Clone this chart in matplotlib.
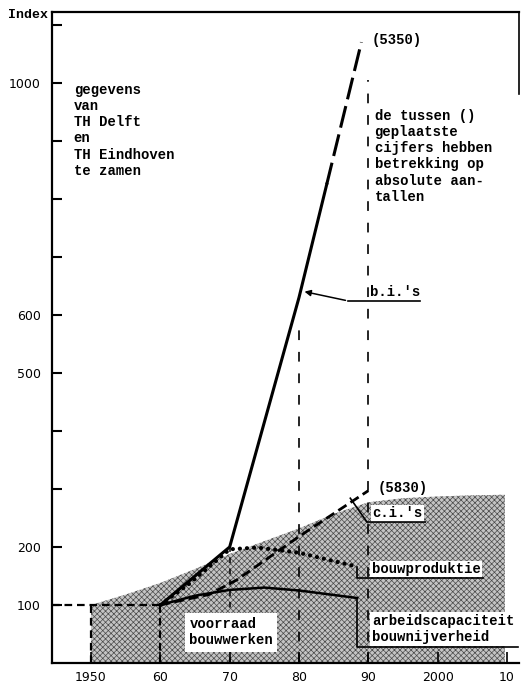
import matplotlib
matplotlib.use("Agg")
import matplotlib.pyplot as plt

plt.rcParams["lines.scale_dashes"] = False
plt.rcParams["hatch.linewidth"] = 0.5

# index values (1960 = 100)
bi_years = [1960, 1970, 1980, 1984, 1989]
bi_index = [100, 200, 630, 825, 1070]

ci_years = [1960, 1967, 1971, 1980, 1990]
ci_index = [100, 118, 143, 218, 297]

prod_years = [1960, 1964, 1970, 1974, 1980, 1988.4]
prod_index = [100, 135, 196, 199, 190, 166]

labour_years = [1960, 1965, 1970, 1975, 1980, 1988.4]
labour_index = [100, 116, 126, 130, 125, 112]

stock_years = [1950, 1955, 1960, 1965, 1970, 1975, 1980, 1985, 1990,
               1995, 2000, 2005, 2009.7]
stock_index = [100, 118, 138, 162, 188, 210, 232, 257, 277,
               284, 287, 289, 290]

x_ticks = [1950, 1960, 1970, 1980, 1990, 2000, 2010]
x_labels = ["1950", "60", "70", "80", "90", "2000", "10"]
y_ticks = list(range(100, 1101, 100))
y_labels = {100: "100", 200: "200", 500: "500", 600: "600", 1000: "1000"}

MONO = ["Liberation Mono", "DejaVu Sans Mono"]
TXT = dict(family=MONO, fontsize=10, fontweight="bold", color="black")

fig = plt.figure(figsize=(5.25, 6.85), dpi=100)
ax = fig.add_axes([0.099, 0.0321, 0.8905, 0.9504])
ax.set_xlim(1944.37, 2011.8)
ax.set_ylim(0, 1122)

# shaded stock of buildings
ax.fill_between(stock_years, 0, stock_index, facecolor="#c4c4c4",
                edgecolor="#4a4a4a", hatch="xxxxxx", linewidth=0, zorder=1)

# guide lines
ax.plot([1944.37, 1960], [100, 100], color="k", lw=1.6, dashes=[5.5, 3.5], zorder=2)
for yr in (1950, 1960):
    ax.plot([yr, yr], [0, 100], color="k", lw=1.6, dashes=[5.5, 3.5], zorder=2)
ax.plot([1970, 1970], [0, 200], color="k", lw=1.1, dashes=[4, 4], zorder=2)
ax.plot([1980, 1980], [0, 580], color="k", lw=1.2, dashes=[7, 8.5], zorder=2)
ax.plot([1990, 1990], [0, 1005], color="k", lw=1.2, dashes=[7, 8.5], zorder=2)

# series
ax.plot(bi_years[:4], bi_index[:4], color="k", lw=2.2, zorder=3)
ax.plot(bi_years[3:], bi_index[3:], color="k", lw=2.2, dashes=[16, 5], zorder=3)
ax.plot(ci_years, ci_index, color="k", lw=2.0, dashes=[7, 3.5], zorder=3)
ax.plot(prod_years, prod_index, color="k", lw=3.0, dashes=[0.1, 5],
        dash_capstyle="round", zorder=3)
ax.plot(labour_years, labour_index, color="k", lw=1.8, zorder=3)

# labels with leaders
ax.annotate("", xy=(1980.4, 641), xytext=(1987.1, 624),
            arrowprops=dict(arrowstyle="-|>", color="k", lw=1.1, mutation_scale=9),
            zorder=5)
ax.plot([1987.1, 1997.5], [624, 624], color="k", lw=1.2, zorder=5)
ax.text(1993.9, 628, "b.i.'s", ha="center", va="bottom", zorder=5, **TXT)

ax.plot([1987.4, 1989.8, 1998.2], [284, 243, 243], color="k", lw=1.2, zorder=5)
ax.text(1994.2, 246, "c.i.'s", ha="center", va="bottom", zorder=4,
        bbox=dict(facecolor="white", edgecolor="none", pad=1), **TXT)

ax.plot([1988.4, 1988.4, 2006.6], [166, 147, 147], color="k", lw=1.2, zorder=5)
ax.text(1990.5, 150, "bouwproduktie", ha="left", va="bottom", zorder=4,
        bbox=dict(facecolor="white", edgecolor="none", pad=1), **TXT)

ax.plot([1988.4, 1988.4, 2011.6], [112, 27.6, 27.6], color="k", lw=1.2, zorder=5)
ax.text(1990.5, 32, "arbeidscapaciteit\nbouwnijverheid", ha="left", va="bottom",
        linespacing=1.25, zorder=4,
        bbox=dict(facecolor="white", edgecolor="none", pad=1), **TXT)

ax.text(1964.2, 53, "voorraad\nbouwwerken", ha="left", va="center",
        linespacing=1.2, zorder=4,
        bbox=dict(facecolor="white", edgecolor="none", pad=3), **TXT)

ax.text(1990.5, 1074, "(5350)", ha="left", va="center", **TXT)
ax.text(1991.3, 302, "(5830)", ha="left", va="center", **TXT)

ax.text(1947.5, 1000, "gegevens\nvan\nTH Delft\nen\nTH Eindhoven\nte zamen",
        ha="left", va="top", linespacing=1.2, **TXT)
ax.text(1990.9, 955, "de tussen ()\ngeplaatste\ncijfers hebben\nbetrekking op\n"
        "absolute aan-\ntallen", ha="left", va="top", linespacing=1.2, **TXT)

ax.text(-0.008, 0.996, "Index", transform=ax.transAxes, ha="right", va="center",
        family=MONO, fontsize=9.5, fontweight="bold")

# axes styling
ax.set_xticks(x_ticks)
ax.set_xticklabels(x_labels)
ax.set_yticks(y_ticks)
ax.set_yticklabels([y_labels.get(v, "") for v in y_ticks])
ax.tick_params(axis="x", direction="in", length=8, width=1.2, pad=6, labelsize=9)
ax.tick_params(axis="y", direction="in", length=7, width=1.5, pad=8, labelsize=9)

for side in ("left", "bottom", "top"):
    ax.spines[side].set_linewidth(1.6)
ax.spines["right"].set_linewidth(1.2)
ax.spines["right"].set_bounds(980, 1122)

fig.savefig("out.png", dpi=100)
